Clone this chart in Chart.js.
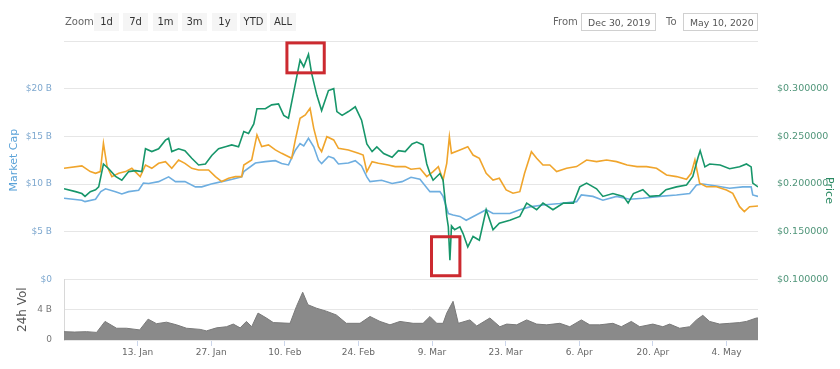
<!DOCTYPE html>
<html lang="en">
<head>
    <meta charset="UTF-8">
    <title>XRP Market Cap / Price</title>
    <script src="https://cdn.jsdelivr.net/npm/chart.js"></script>
    <style>
        body {
            margin: 0;
            background: #fff;
            font-family: 'DejaVu Sans', sans-serif;
        }
        .wrap {
            position: relative;
            width: 840px;
            height: 369px;
        }
        canvas {
            position: absolute;
            left: 0;
            top: 0;
        }
        .nav {
            position: absolute;
            top: 13px;
            height: 18px;
            line-height: 18px;
            font-size: 10px;
            color: #333;
            white-space: nowrap;
        }
        .lbl { color: #666; }
        .btn {
            background: #f5f5f5;
            width: 25px;
            text-align: center;
        }
        .date {
            border: 1px solid #d0d0d0;
            box-sizing: border-box;
            width: 75px;
            padding-left: 6px;
            font-size: 9.3px;
            color: #555;
            overflow: hidden;
        }
    </style>
</head>
<body>
    <div class="wrap">
        <canvas id="grafico" width="840" height="369"></canvas>
        <span class="nav lbl" style="left:65px">Zoom</span>
        <span class="nav btn" style="left:94px">1d</span>
        <span class="nav btn" style="left:123px">7d</span>
        <span class="nav btn" style="left:153px">1m</span>
        <span class="nav btn" style="left:182px">3m</span>
        <span class="nav btn" style="left:212px">1y</span>
        <span class="nav btn" style="left:240px;width:27px">YTD</span>
        <span class="nav btn" style="left:270px;width:26px">ALL</span>
        <span class="nav lbl" style="left:553px">From</span>
        <span class="nav date" style="left:581px">Dec 30, 2019</span>
        <span class="nav lbl" style="left:666px">To</span>
        <span class="nav date" style="left:683px">May 10, 2020</span>
    </div>
    <script>
        // days counted from Dec 30, 2019
        const tickDays = [14, 28, 42, 56, 70, 84, 98, 112, 126];
        const tickLabels = ['13. Jan', '27. Jan', '10. Feb', '24. Feb', '9. Mar', '23. Mar', '6. Apr', '20. Apr', '4. May'];

        // market cap, billions USD
        const capDays = [0, 3.4, 4, 6, 7, 7.9, 9.8, 11, 12.3, 14.2, 15.1, 16.1, 18, 19.9, 21.2, 23, 25, 26.2, 28, 30,
            32, 33.8, 34.2, 36.4, 38.3, 40.2, 41.4, 42.7, 44, 44.9, 45.6, 46.5, 47.5, 48.4, 49, 50.3, 51.3, 52.2, 54.1, 55.4,
            56.6, 57.6, 58.2, 60.4, 62.4, 64.3, 66, 67.7, 69.6, 71.5, 72.1, 73.1, 74, 75.3, 76.5, 78.4, 80.3, 81.6, 84.8, 86.7,
            88.6, 91.1, 94.3, 97.5, 98.4, 100.6, 102.5, 105.1, 107.6, 110.1, 113.3, 116.5, 119, 120.3, 121.5, 124.1, 126.6, 129.1, 130.7, 131,
            132];
        const capValues = [8.5, 8.3, 8.15, 8.4, 9.2, 9.5, 9.2, 8.95, 9.2, 9.35, 10.1, 10.05, 10.25, 10.75, 10.25, 10.25, 9.7, 9.7, 10.0, 10.25,
            10.5, 10.75, 11.3, 12.2, 12.35, 12.45, 12.15, 12.0, 13.55, 14.25, 14.0, 14.8, 13.9, 12.5, 12.15, 12.9, 12.7, 12.1, 12.2, 12.45,
            11.9, 10.75, 10.25, 10.4, 10.05, 10.25, 10.7, 10.5, 9.2, 9.2, 8.7, 6.9, 6.75, 6.6, 6.2, 6.75, 7.3, 6.9, 6.9, 7.3,
            7.6, 7.8, 7.95, 8.15, 8.85, 8.7, 8.3, 8.7, 8.4, 8.5, 8.7, 8.85, 9.0, 9.9, 10.0, 9.8, 9.55, 9.7, 9.7, 8.85,
            8.7];

        // price, USD
        const priceDays = [0, 2.2, 3.4, 4, 5, 6, 6.6, 7.5, 8.5, 9.8, 11, 12.3, 13.6, 14.8, 15.5, 16.7, 18, 19.3, 19.9, 20.5,
            21.8, 23, 24.3, 25.6, 26.9, 28.1, 29.4, 30.7, 31.9, 33.2, 34.2, 35.1, 36.1, 36.7, 38.3, 39.5, 40.8, 41.8, 42.7, 44,
            44.9, 45.6, 46.5, 47.1, 48.1, 49, 50.3, 51.3, 51.9, 52.9, 54.1, 55.4, 56.6, 57.6, 58.6, 59.5, 60.8, 62.4, 63.6, 64.9,
            66.2, 67.1, 68.3, 69, 69.6, 70.2, 71.5, 72.1, 72.8, 73.1, 73.4, 73.7, 74.3, 75.3, 75.9, 76.8, 77.8, 79, 80.3, 81.6,
            82.8, 84.8, 86.7, 88, 89.9, 91.1, 93, 95, 96.9, 98.1, 99.4, 101.3, 102.5, 104.4, 106.4, 107.3, 108.3, 110.1, 111.4, 113.3,
            114.5, 116.5, 118.4, 119.6, 120.6, 121, 121.9, 122.8, 124.8, 126.6, 128.5, 129.8, 130.7, 131, 132];
        const priceValues = [0.195, 0.192, 0.190, 0.187, 0.192, 0.194, 0.197, 0.221, 0.216, 0.208, 0.204, 0.213, 0.214, 0.213, 0.237, 0.234, 0.237, 0.246, 0.248, 0.234,
            0.237, 0.235, 0.227, 0.220, 0.221, 0.230, 0.237, 0.239, 0.241, 0.239, 0.255, 0.253, 0.263, 0.279, 0.279, 0.283, 0.284, 0.272, 0.269, 0.305,
            0.330, 0.323, 0.336, 0.316, 0.293, 0.277, 0.298, 0.300, 0.276, 0.272, 0.276, 0.281, 0.267, 0.242, 0.234, 0.239, 0.232, 0.228, 0.235, 0.234,
            0.242, 0.244, 0.241, 0.221, 0.211, 0.204, 0.211, 0.204, 0.166, 0.155, 0.120, 0.156, 0.152, 0.155, 0.148, 0.134, 0.145, 0.141, 0.173, 0.152,
            0.159, 0.162, 0.166, 0.180, 0.173, 0.180, 0.173, 0.180, 0.180, 0.197, 0.201, 0.195, 0.187, 0.190, 0.187, 0.180, 0.190, 0.194, 0.187, 0.188,
            0.194, 0.197, 0.199, 0.208, 0.228, 0.235, 0.218, 0.221, 0.220, 0.216, 0.218, 0.221, 0.218, 0.201, 0.197];

        // price in BTC, satoshi
        const btcDays = [0, 3.4, 5, 6, 6.9, 7.5, 8.2, 9.1, 10.4, 11.7, 12.9, 14.5, 15.5, 16.7, 18, 19.3, 20.5, 21.8, 23, 24.3,
            25.6, 27.5, 28.8, 30, 31.3, 32.6, 33.8, 34.2, 35.7, 36.7, 37.6, 38.9, 40.2, 41.4, 43.3, 44, 44.9, 45.9, 46.8, 47.5,
            48.4, 49, 50, 51.3, 52.2, 54.1, 56, 56.9, 57.6, 58.6, 59.8, 61.7, 63, 64.9, 66, 67.7, 69, 70.2, 71.2, 72.1,
            72.8, 73.3, 73.7, 75.3, 76.8, 77.8, 79, 80.3, 81.6, 82.8, 84.1, 85.4, 86.7, 87.6, 88.9, 89.9, 91.1, 92.4, 93.7, 95.6,
            97.5, 99.4, 101.3, 103.2, 105.1, 107.1, 109, 110.8, 112.7, 114.6, 116.5, 118.4, 119.3, 120, 120.9, 122.2, 124.1, 126, 127.2, 128.5,
            129.4, 130.4, 132];
        const btcValues = [2678, 2699, 2649, 2634, 2649, 2898, 2693, 2605, 2634, 2649, 2678, 2605, 2707, 2678, 2722, 2737, 2678, 2751, 2722, 2678,
            2663, 2663, 2605, 2561, 2590, 2605, 2605, 2707, 2751, 2972, 2869, 2884, 2840, 2810, 2766, 2928, 3119, 3148, 3207, 3030,
            2869, 2825, 2957, 2928, 2854, 2840, 2810, 2795, 2649, 2737, 2722, 2707, 2693, 2693, 2670, 2678, 2605, 2649, 2693, 2575,
            2722, 2957, 2810, 2840, 2869, 2795, 2766, 2634, 2575, 2590, 2487, 2458, 2472, 2634, 2825, 2766, 2707, 2707, 2649, 2678,
            2693, 2751, 2737, 2751, 2737, 2707, 2693, 2693, 2678, 2619, 2605, 2581, 2634, 2751, 2546, 2516, 2516, 2487, 2458, 2340,
            2296, 2340, 2346];

        // 24h volume, billions USD
        const volDays = [0, 2, 4.3, 6.2, 7.8, 10, 11.9, 14.4, 16, 17.6, 19.5, 21.4, 23.3, 25.9, 27.1, 29, 30.9, 32.2, 33.5, 34.7,
            35.7, 36.9, 38.5, 39.8, 43, 44.2, 45.4, 46.4, 48, 49.9, 51.8, 53.7, 56.3, 58.2, 60.1, 62, 63.9, 66.4, 68.3, 69.6,
            70.9, 72.1, 72.8, 74, 75, 77.2, 78.5, 81, 82.9, 84.2, 86.1, 88, 89.9, 91.8, 94.3, 96.2, 98.4, 100, 101.9, 104.4,
            106, 107.9, 109.5, 112, 113.9, 115.2, 117.1, 119, 120.3, 121.5, 122.8, 124.7, 126.6, 128.5, 129.8, 131.7, 132];
        const volValues = [1.1, 1.05, 1.1, 1.0, 2.45, 1.55, 1.55, 1.33, 2.75, 2.15, 2.35, 2.0, 1.55, 1.4, 1.2, 1.6, 1.75, 2.1, 1.6, 2.45,
            1.75, 3.55, 2.9, 2.3, 2.2, 4.4, 6.3, 4.65, 4.2, 3.8, 3.3, 2.2, 2.2, 3.1, 2.45, 2.0, 2.45, 2.2, 2.2, 3.1,
            2.2, 2.2, 3.55, 5.1, 2.2, 2.65, 1.85, 2.9, 1.75, 2.1, 2.0, 2.65, 2.1, 2.0, 2.2, 1.75, 2.65, 2.0, 2.0, 2.2,
            1.75, 2.45, 1.75, 2.1, 1.75, 2.1, 1.55, 1.75, 2.65, 3.25, 2.45, 2.1, 2.2, 2.3, 2.45, 2.9, 2.9];

        // highlighted areas (day range, price range)
        const redBoxes = [
            { fromDay: 42.4, toDay: 49.5, top: 0.348, bottom: 0.3166 },
            { fromDay: 69.9, toDay: 75.3, top: 0.1447, bottom: 0.1038 }
        ];

        function punti(giorni, valori) {
            return giorni.map((d, i) => ({ x: d, y: valori[i] }));
        }

        const boxPlugin = {
            id: 'redBoxes',
            afterDatasetsDraw(chart) {
                const ctx = chart.ctx;
                const x = chart.scales.x;
                const p = chart.scales.price;
                ctx.save();
                ctx.strokeStyle = '#cc2a30';
                ctx.lineWidth = 3;
                redBoxes.forEach(b => {
                    const x0 = x.getPixelForValue(b.fromDay);
                    const x1 = x.getPixelForValue(b.toDay);
                    const y0 = p.getPixelForValue(b.top);
                    const y1 = p.getPixelForValue(b.bottom);
                    ctx.strokeRect(x0, y0, x1 - x0, y1 - y0);
                });
                ctx.restore();
            }
        };

        Chart.defaults.font.family = "'DejaVu Sans', sans-serif";
        Chart.defaults.font.size = 9;

        new Chart(document.getElementById('grafico'), {
            type: 'line',
            data: {
                datasets: [
                    { label: 'Price', data: punti(priceDays, priceValues), yAxisID: 'price', borderColor: '#17966a' },
                    { label: 'Price (BTC)', data: punti(btcDays, btcValues), yAxisID: 'btc', borderColor: '#f0a52c' },
                    { label: 'Market Cap', data: punti(capDays, capValues), yAxisID: 'mc', borderColor: '#6eaee0' },
                    { label: '24h Vol', data: punti(volDays, volValues), yAxisID: 'vol', borderColor: '#7a7a7a',
                      backgroundColor: '#8a8a8a', borderWidth: 1, fill: 'origin' }
                ]
            },
            options: {
                responsive: false,
                animation: false,
                layout: { padding: { top: 41, left: 0, right: 0, bottom: 0 } },
                plugins: { legend: { display: false }, tooltip: { enabled: false } },
                elements: { point: { radius: 0 }, line: { tension: 0, borderWidth: 1.6 } },
                scales: {
                    x: {
                        type: 'linear', min: 0, max: 132,
                        afterBuildTicks: s => { s.ticks = tickDays.map(v => ({ value: v })); },
                        afterFit: s => { s.height = 29; },
                        ticks: { callback: (v, i) => tickLabels[i], color: '#666', padding: 1, maxRotation: 0, autoSkip: false },
                        grid: { drawOnChartArea: false, tickLength: 6, color: '#ccd6eb' },
                        border: { display: false }
                    },
                    vol: {
                        position: 'left', stack: 'left', stackWeight: 1, min: 0, max: 8,
                        afterBuildTicks: s => { s.ticks = [0, 4, 8].map(v => ({ value: v })); },
                        afterFit: s => { s.width = 64; },
                        ticks: { callback: v => v === 8 ? '' : (v === 0 ? '0' : v + ' B'), color: '#777', padding: 12 },
                        grid: { color: '#e6e6e6', drawTicks: false },
                        border: { display: true, color: '#d8d8d8' },
                        title: { display: true, text: '24h Vol', color: '#555', font: { size: 12 }, padding: { top: 16, bottom: 0 } }
                    },
                    mc: {
                        position: 'left', stack: 'left', stackWeight: 3.93, min: 0, max: 25,
                        afterBuildTicks: s => { s.ticks = [0, 5, 10, 15, 20, 25].map(v => ({ value: v })); },
                        afterFit: s => { s.width = 64; },
                        ticks: { callback: v => v === 25 ? '' : (v === 0 ? '$0' : '$' + v + ' B'), color: '#7ea8cf', padding: 12 },
                        grid: { color: '#e6e6e6', drawTicks: false },
                        border: { display: false },
                        title: { display: true, text: 'Market Cap', color: '#5aa2d8', font: { size: 11 }, padding: { top: 8, bottom: 0 } }
                    },
                    price: {
                        position: 'right', min: 0.0364, max: 0.35,
                        afterBuildTicks: s => { s.ticks = [0.1, 0.15, 0.2, 0.25, 0.3].map(v => ({ value: v })); },
                        afterFit: s => { s.width = 82; },
                        ticks: { callback: v => '$' + v.toFixed(6), color: '#4f9579', padding: 11, font: { size: 9.5 } },
                        grid: { display: false },
                        border: { display: false },
                        title: { display: true, text: 'Price', color: '#2b8a63', font: { size: 11 }, padding: { top: 5, bottom: 0 } }
                    },
                    btc: { display: false, min: 1165, max: 3800 }
                }
            },
            plugins: [boxPlugin]
        });
    </script>
</body>
</html>
